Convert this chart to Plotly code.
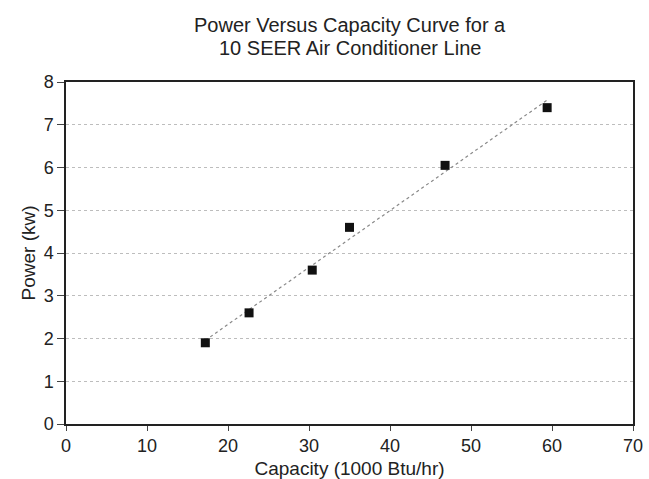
import numpy as np
import plotly.graph_objects as go

capacity = [17.2, 22.6, 30.4, 35.0, 46.8, 59.4]
power = [1.9, 2.6, 3.6, 4.6, 6.05, 7.4]
x_ticks = [0, 10, 20, 30, 40, 50, 60, 70]
y_ticks = [0, 1, 2, 3, 4, 5, 6, 7, 8]
title_lines = ["Power Versus Capacity Curve for a", "10 SEER Air Conditioner Line"]

slope, intercept = np.polyfit(capacity, power, 1)
tx = [min(capacity), max(capacity)]
ty = [slope * v + intercept for v in tx]

font = "Liberation Sans, Arial, sans-serif"
W, H = 649, 479
ml, mr, mt, mb = 66, 16, 82, 55
ph = H - mt - mb

fig = go.Figure()
fig.add_trace(go.Scatter(x=tx, y=ty, mode="lines",
                         line=dict(color="#888888", width=1.2, dash="dot"),
                         showlegend=False, hoverinfo="skip"))
fig.add_trace(go.Scatter(x=capacity, y=power, mode="markers",
                         marker=dict(symbol="square", size=9, color="#111111"),
                         showlegend=False))

for i, (txt, py) in enumerate(zip(title_lines, [25, 48])):
    fig.add_annotation(text=txt, xref="paper", yref="paper",
                       x=0.5, y=(H - mb - py) / ph, xanchor="center", yanchor="middle",
                       showarrow=False, font=dict(family=font, size=20, color="#222222"))

fig.update_layout(
    width=W, height=H,
    margin=dict(l=ml, r=mr, t=mt, b=mb),
    paper_bgcolor="white", plot_bgcolor="white",
    font=dict(family=font, size=18, color="#222222"),
    xaxis=dict(range=[0, 70], tickvals=x_ticks, showgrid=False, zeroline=False,
               showline=True, linecolor="#222222", linewidth=1.5, mirror=True,
               ticks="outside", ticklen=5, tickcolor="#444444",
               tickfont=dict(size=18), automargin=False,
               title=dict(text="Capacity (1000 Btu/hr)", standoff=6,
                          font=dict(size=19))),
    yaxis=dict(range=[0, 8], tickvals=y_ticks, showgrid=True,
               gridcolor="#bdbdbd", griddash="dot", gridwidth=1,
               zeroline=False, showline=True, linecolor="#222222", linewidth=1.5,
               mirror=True, ticks="outside", ticklen=7, tickcolor="#444444",
               tickfont=dict(size=18), automargin=False,
               title=dict(text="Power (kw)", standoff=3, font=dict(size=19))),
)

fig.write_html("out.html", config={"displayModeBar": False},
               post_script="document.body.style.margin='0';")
